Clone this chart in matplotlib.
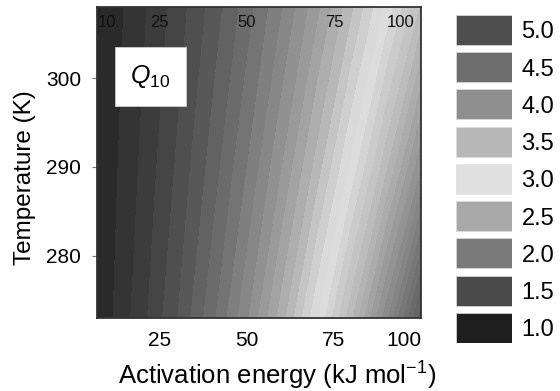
import numpy as np
import matplotlib
matplotlib.use("Agg")
import matplotlib.pyplot as plt
from matplotlib.colors import LinearSegmentedColormap, Normalize

plt.rcParams["font.family"] = ["Liberation Sans", "DejaVu Sans"]
plt.rcParams["mathtext.fontset"] = "custom"
plt.rcParams["mathtext.rm"] = "Liberation Sans"
plt.rcParams["mathtext.it"] = "Liberation Sans:italic"

# -------------------- data --------------------
activation_energy = [7, 10, 20, 30, 40, 50, 60, 70, 80, 90, 100]   # kJ/mol
temperature = [273, 290, 308]                                       # K
q10_values = [
    [1.115, 1.168, 1.365, 1.595, 1.864, 2.178, 2.545, 2.974, 3.474, 4.060, 4.744],  # 273 K
    [1.102, 1.148, 1.319, 1.514, 1.739, 1.996, 2.292, 2.632, 3.022, 3.470, 3.985],  # 290 K
    [1.090, 1.131, 1.278, 1.445, 1.634, 1.848, 2.089, 2.362, 2.671, 3.020, 3.414],  # 308 K
]

legend_values = [1.0, 1.5, 2.0, 2.5, 3.0, 3.5, 4.0, 4.5, 5.0]
legend_grays = ["#1e1e1e", "#4a4a4a", "#7a7a7a", "#a8a8a8", "#e0e0e0",
                "#b8b8b8", "#8f8f8f", "#6e6e6e", "#4d4d4d"]

top_tick_values = [10, 25, 50, 75, 100]
x_ticks = [25, 50, 75, 100]
y_ticks = [280, 290, 300]

# -------------------- colormap --------------------
norm = Normalize(vmin=1.0, vmax=5.0)
cmap = LinearSegmentedColormap.from_list(
    "q10gray", [(norm(v), c) for v, c in zip(legend_values, legend_grays)])

fig = plt.figure(figsize=(5.6, 3.91), dpi=100)
ax = fig.add_axes([0.1732, 0.1867, 0.5786, 0.7954])

ea = np.asarray(activation_energy, dtype=float)
tk = np.asarray(temperature, dtype=float)
q10 = np.asarray(q10_values, dtype=float)

levels = np.arange(1.0, 5.01, 0.1)
ax.contourf(ea, tk, q10, levels=levels, cmap=cmap, norm=norm, antialiased=False)

ax.set_xlim(7, 100)
ax.set_ylim(273, 308)

ax.set_xticks(x_ticks)
ax.set_xticklabels([str(v) for v in x_ticks], fontsize=15)
ax.get_xticklabels()[-1].set_ha("right")
ax.tick_params(axis="x", length=0, pad=9.5)

ax.set_yticks(y_ticks)
ax.set_yticklabels([str(v) for v in y_ticks], fontsize=15)
ax.tick_params(axis="y", length=3.6, width=0.8, color="#777777", pad=8)

for sp in ax.spines.values():
    sp.set_color("#333333")
    sp.set_linewidth(1.3)

ax.set_xlabel(r"Activation energy (kJ mol$^{-1}$)", fontsize=18.5)
ax.xaxis.set_label_coords(0.556, -0.186)
ax.xaxis.label.set_va("center")
ax.set_ylabel("Temperature (K)", fontsize=17.5)
ax.yaxis.set_label_coords(-0.222, 0.45)
ax.yaxis.label.set_va("center")

# labels along the top edge, inside the plot
for v in top_tick_values:
    ha = "right" if v == top_tick_values[-1] else "center"
    xv = 98.2 if v == top_tick_values[-1] else v
    ax.text(xv, 0.95, str(v), transform=ax.get_xaxis_transform(),
            ha=ha, va="center", fontsize=12, color="#111111")

# Q10 box
ax.add_patch(plt.Rectangle((0.0556, 0.682), 0.219, 0.189, transform=ax.transAxes,
                           facecolor="white", edgecolor="#cccccc", linewidth=0.6,
                           zorder=3))
ax.text(0.165, 0.775, r"$\mathit{Q}_{\mathit{10}}$", transform=ax.transAxes,
        ha="center", va="center", fontsize=18, zorder=4)

# discrete colour key
cax = fig.add_axes([0.814, 0.1228, 0.1, 0.8389])
bar_h = 0.805
ypos = np.arange(len(legend_values))
cax.barh(ypos, 1.0, height=bar_h, color=legend_grays, edgecolor="#dddddd",
         linewidth=0.5)
cax.set_xlim(0, 1)
cax.set_ylim(-bar_h / 2, ypos[-1] + bar_h / 2)
cax.set_xticks([])
cax.set_yticks(ypos)
cax.set_yticklabels([f"{v:.1f}" for v in legend_values], fontsize=17)
cax.yaxis.tick_right()
cax.tick_params(axis="y", length=0, pad=7)
for sp in cax.spines.values():
    sp.set_visible(False)

fig.savefig("out.png", dpi=100)
